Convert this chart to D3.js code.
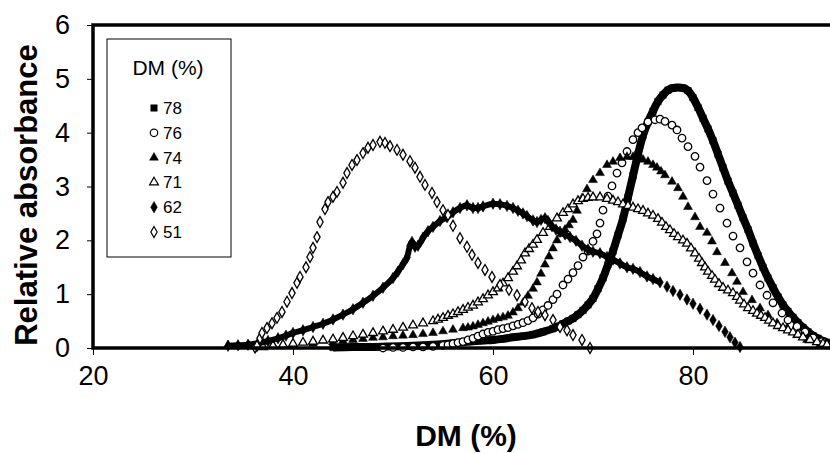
<!DOCTYPE html>
<html>
<head>
<meta charset="utf-8">
<script src="https://cdn.jsdelivr.net/npm/d3@7"></script>
<style>
  body { margin: 0; background: #fff; }
  text { font-family: "Liberation Sans", Arial, sans-serif; fill: #000; }
</style>
</head>
<body>
<div id="chart"></div>
<script>
// DM (%) vs relative absorbance, one array of [DM, absorbance] per sample
const s78 = [[44,0.01],[46,0.02],[48,0.02],[50,0.03],[52,0.04],[54,0.06],[56,0.09],[57.7,0.12],[59,0.14],[60,0.15],[61,0.17],[62,0.2],[63,0.22],[64,0.25],[65,0.3],[66,0.36],[66.5,0.4],[67,0.45],[67.5,0.5],[68,0.55],[68.5,0.62],[69,0.7],[69.5,0.8],[70,0.92],[70.5,1.1],[71,1.3],[71.5,1.55],[72,1.8],[72.5,2.1],[73,2.4],[73.5,2.8],[74,3.2],[74.5,3.6],[75,3.95],[75.5,4.2],[76,4.4],[76.5,4.58],[77,4.7],[77.5,4.79],[78,4.83],[78.5,4.84],[79,4.83],[79.5,4.78],[80,4.65],[80.5,4.47],[81,4.27],[81.5,4.07],[82,3.85],[82.5,3.6],[83,3.35],[83.5,3.1],[84,2.88],[84.5,2.65],[85,2.42],[85.5,2.2],[86,1.95],[86.5,1.72],[87,1.5],[87.5,1.3],[88,1.12],[88.5,0.95],[89,0.8],[89.5,0.68],[90,0.57],[90.5,0.47],[91,0.38],[91.5,0.3],[92,0.23],[92.5,0.18],[93,0.13],[93.5,0.1],[94,0.08],[95,0.05]]

const s76 = [[49,0],[50,0.01],[51,0.01],[52,0.02],[53,0.02],[54,0.03],[55,0.05],[55.5,0.06],[56,0.08],[56.5,0.1],[57,0.12],[57.5,0.15],[58,0.18],[58.5,0.22],[59,0.26],[59.5,0.29],[60,0.31],[60.5,0.34],[61,0.36],[61.5,0.38],[62,0.41],[62.5,0.44],[63,0.47],[63.5,0.51],[64,0.56],[64.5,0.63],[65,0.71],[65.5,0.79],[66,0.9],[66.4,1.0],[67,1.17],[67.5,1.28],[68,1.4],[68.5,1.53],[69,1.69],[69.5,1.8],[70,1.98],[70.4,2.12],[70.7,2.32],[71,2.56],[71.5,2.82],[71.9,3.01],[72.4,3.25],[72.9,3.44],[73.4,3.65],[74,3.87],[74.5,4.0],[74.9,4.09],[75.5,4.2],[76.2,4.24],[76.7,4.25],[77.2,4.21],[77.9,4.14],[78.4,4.05],[78.9,3.9],[79.5,3.74],[80.2,3.56],[80.7,3.36],[81.4,3.11],[82,2.86],[82.7,2.6],[83.4,2.32],[84,2.08],[84.7,1.86],[85.4,1.6],[86,1.39],[86.7,1.17],[87.4,0.98],[88,0.84],[88.9,0.65],[89.5,0.52],[90.4,0.4],[91.2,0.3],[92,0.19],[92.9,0.12],[93.7,0.06],[94.5,0.03],[95.5,0.01]]

const s74 = [[33.5,0.05],[35.6,0.04],[38,0.05],[40,0.06],[42,0.08],[44,0.11],[45,0.13],[46,0.15],[47,0.17],[48,0.19],[49,0.2],[50,0.22],[51,0.23],[52,0.24],[53,0.26],[54,0.28],[55,0.31],[56,0.34],[57,0.37],[57.5,0.38],[58,0.4],[58.5,0.43],[59,0.46],[59.5,0.49],[60,0.52],[60.5,0.55],[61,0.57],[61.5,0.6],[62,0.66],[62.5,0.74],[63,0.84],[63.5,0.97],[64,1.1],[64.4,1.22],[64.8,1.38],[65.2,1.55],[65.6,1.7],[66,1.85],[66.4,2.0],[66.8,2.12],[67.2,2.2],[67.6,2.28],[68,2.38],[68.4,2.55],[68.9,2.78],[69.4,2.95],[70,3.12],[70.7,3.25],[71.4,3.4],[72,3.46],[72.7,3.53],[73.4,3.55],[74,3.55],[74.4,3.54],[75,3.5],[75.5,3.46],[76,3.4],[76.4,3.35],[76.8,3.28],[77.2,3.21],[77.9,3.09],[78.5,2.97],[79,2.81],[79.5,2.62],[80.2,2.43],[80.7,2.25],[81.4,2.14],[81.9,1.98],[82.4,1.78],[83.2,1.58],[83.9,1.39],[84.4,1.23],[85,1.04],[85.9,0.89],[86.7,0.74],[87.5,0.61],[88.4,0.46],[89.4,0.37],[90.4,0.24],[91.4,0.15],[92.7,0.06],[93.7,0.03],[95,0.01]]

const s71 = [[37,0.02],[38,0.04],[39,0.06],[40,0.08],[41,0.1],[42,0.12],[43,0.14],[44,0.16],[45,0.19],[46,0.22],[47,0.25],[48,0.28],[49,0.31],[50,0.34],[51,0.38],[52,0.42],[53,0.46],[54,0.5],[54.5,0.53],[55,0.56],[55.5,0.6],[56,0.63],[56.5,0.67],[57,0.71],[57.5,0.75],[58,0.79],[58.5,0.85],[59,0.91],[59.5,0.98],[60,1.04],[60.5,1.11],[61,1.2],[61.5,1.3],[62,1.42],[62.4,1.52],[62.8,1.63],[63.2,1.76],[63.6,1.84],[64,1.92],[64.4,2.01],[65,2.14],[65.7,2.25],[66.4,2.41],[67,2.51],[67.5,2.58],[68,2.67],[68.5,2.73],[69,2.77],[69.5,2.79],[70,2.8],[70.7,2.8],[71.4,2.77],[72,2.74],[72.5,2.71],[73,2.67],[73.5,2.64],[74,2.61],[74.5,2.58],[75,2.55],[75.5,2.5],[76,2.46],[76.5,2.4],[76.9,2.33],[77.3,2.25],[77.7,2.19],[78.1,2.12],[78.5,2.06],[79,2.0],[79.4,1.94],[79.8,1.85],[80.2,1.76],[80.6,1.66],[80.9,1.58],[81.2,1.5],[81.5,1.42],[81.9,1.34],[82.2,1.27],[82.6,1.19],[83,1.12],[83.5,1.07],[84,1.02],[84.4,0.95],[84.7,0.88],[85.1,0.81],[85.5,0.74],[86,0.69],[86.4,0.64],[86.8,0.6],[87.2,0.56],[87.6,0.51],[88,0.46],[88.5,0.41],[89,0.37],[89.5,0.33],[90,0.29],[90.5,0.25],[91,0.2],[91.7,0.15],[92.4,0.11],[93,0.08],[93.4,0.06],[94,0.04],[95,0.02]]

const s62 = [[33.5,0.04],[34.5,0.05],[35.5,0.06],[36.5,0.09],[37.5,0.13],[38.5,0.18],[39.3,0.23],[40,0.28],[41,0.33],[42,0.39],[43,0.45],[44,0.53],[45,0.62],[46,0.72],[47,0.84],[48,0.97],[49,1.12],[50,1.3],[50.5,1.42],[51,1.56],[51.4,1.68],[51.7,1.9],[51.9,1.97],[52.2,1.88],[52.5,1.9],[53,2.05],[53.5,2.17],[54,2.25],[54.7,2.36],[55.4,2.43],[56,2.52],[56.7,2.6],[57.4,2.65],[58,2.6],[58.5,2.6],[59,2.63],[60,2.68],[60.7,2.67],[61.4,2.64],[62,2.6],[62.5,2.55],[63,2.5],[63.4,2.45],[64,2.37],[64.4,2.34],[64.8,2.38],[65.2,2.41],[65.5,2.36],[65.9,2.26],[66.3,2.2],[66.7,2.16],[67.2,2.11],[67.7,2.06],[68.3,1.99],[68.9,1.9],[69.5,1.83],[70,1.79],[70.7,1.76],[71.4,1.69],[72,1.64],[72.7,1.57],[73.4,1.5],[74,1.47],[74.7,1.41],[75.4,1.33],[76,1.28],[76.7,1.22],[77.4,1.14],[78,1.06],[78.7,0.99],[79.4,0.9],[80,0.82],[80.7,0.73],[81.4,0.62],[82,0.52],[82.6,0.41],[83.2,0.3],[83.7,0.2],[84.2,0.1],[84.7,0.02]]

const s51 = [[36.2,0.01],[36.4,0.04],[36.7,0.18],[36.9,0.28],[37.4,0.37],[37.9,0.46],[38.4,0.56],[38.9,0.67],[39.4,0.86],[39.9,1.02],[40.4,1.21],[40.7,1.32],[41.3,1.5],[41.7,1.69],[42,1.86],[42.4,2.06],[42.7,2.34],[43.2,2.58],[43.5,2.71],[44,2.81],[44.4,2.9],[45,3.07],[45.4,3.25],[45.9,3.4],[46.4,3.49],[47,3.62],[47.5,3.72],[48,3.77],[48.7,3.83],[49.2,3.81],[49.7,3.75],[50.4,3.68],[51,3.59],[51.7,3.47],[52.2,3.35],[52.7,3.18],[53.2,3.03],[53.9,2.88],[54.4,2.71],[55,2.56],[55.5,2.47],[56,2.27],[56.7,2.04],[57.4,1.88],[57.9,1.73],[58.5,1.58],[59.2,1.45],[59.9,1.32],[60.7,1.17],[61.6,1.08],[62.4,0.98],[63.2,0.86],[63.9,0.74],[64.5,0.67],[65.2,0.61],[66,0.52],[66.7,0.39],[67.4,0.33],[68,0.24],[68.9,0.15],[69.7,0.0]]

const xTicks = [20, 40, 60, 80]
const yTicks = [0, 1, 2, 3, 4, 5, 6]

// drawing order = legend order, later series sit on top
// band: dense runs of markers that merge into a solid stroke, up to that DM
const series = [
  {name: "78", data: s78, symbol: d3.symbolSquare,   size: 42, filled: true,  band: 95, bandWidth: 8},
  {name: "76", data: s76, symbol: d3.symbolCircle,   size: 44, filled: false, band: 0},
  {name: "74", data: s74, symbol: d3.symbolTriangle, size: 34, filled: true,  band: 0},
  {name: "71", data: s71, symbol: d3.symbolTriangle, size: 34, filled: false, band: 0},
  {name: "62", data: s62, symbol: d3.symbolDiamond,  size: 38, filled: true,  band: 77, bandWidth: 6},
  {name: "51", data: s51, symbol: d3.symbolDiamond,  size: 34, filled: false, band: 0}
]

const W = 830, H = 453
const plot = {left: 93, top: 25, right: 893, bottom: 348}

const svg = d3.select("#chart")
  .append("svg")
    .attr("width", W)
    .attr("height", H)

const x = d3.scaleLinear().domain([20, 100]).range([plot.left, plot.right])
const y = d3.scaleLinear().domain([0, 6]).range([plot.bottom, plot.top])

// ticks
svg.append("g")
  .attr("transform", `translate(0, ${plot.bottom})`)
  .call(d3.axisBottom(x).tickValues(xTicks).tickSize(7).tickPadding(11).tickFormat(d3.format("d")))
  .call(g => g.select(".domain").remove())
  .call(g => g.selectAll("text").attr("font-size", 27).attr("font-family", "Liberation Sans, Arial"))

svg.append("g")
  .attr("transform", `translate(${plot.left}, 0)`)
  .call(d3.axisLeft(y).tickValues(yTicks).tickSize(6).tickPadding(17).tickFormat(d3.format("d")))
  .call(g => g.select(".domain").remove())
  .call(g => g.selectAll("text").attr("font-size", 27).attr("font-family", "Liberation Sans, Arial"))

// series
series.forEach(s => {
  if (s.band) {
    const line = d3.line()
      .x(d => x(d[0]))
      .y(d => y(d[1]))
      .curve(d3.curveMonotoneX)
    svg.append("path")
      .datum(s.data.filter(d => d[0] <= s.band))
      .attr("fill", "none")
      .attr("stroke", "#000")
      .attr("stroke-width", s.bandWidth)
      .attr("stroke-linejoin", "round")
      .attr("d", line)
  }
  svg.append("g")
    .selectAll("path")
    .data(s.data)
    .enter()
    .append("path")
      .attr("transform", d => `translate(${x(d[0])}, ${y(d[1])})`)
      .attr("d", d3.symbol().type(s.symbol).size(s.size))
      .attr("fill", s.filled ? "#000" : "#fff")
      .attr("stroke", "#000")
      .attr("stroke-width", s.filled ? 0.5 : 1.3)
})

// plot frame
svg.append("rect")
  .attr("x", plot.left)
  .attr("y", plot.top)
  .attr("width", plot.right - plot.left)
  .attr("height", plot.bottom - plot.top)
  .attr("fill", "none")
  .attr("stroke", "#000")
  .attr("stroke-width", 3.5)

// axis titles
svg.append("text")
  .attr("x", 466)
  .attr("y", 446)
  .attr("text-anchor", "middle")
  .attr("font-size", 30)
  .attr("font-weight", "bold")
  .text("DM (%)")

svg.append("text")
  .attr("transform", "translate(37, 195) rotate(-90)")
  .attr("text-anchor", "middle")
  .attr("font-size", 31)
  .attr("font-weight", "bold")
  .text("Relative absorbance")

// legend
const legend = svg.append("g")
legend.append("rect")
  .attr("x", 107).attr("y", 39)
  .attr("width", 124).attr("height", 218)
  .attr("fill", "#fff")
  .attr("stroke", "#000")
  .attr("stroke-width", 1)
legend.append("text")
  .attr("x", 168).attr("y", 75)
  .attr("text-anchor", "middle")
  .attr("font-size", 21)
  .text("DM (%)")

const item = legend.selectAll(".item")
  .data(series)
  .enter()
  .append("g")
    .attr("class", "item")
    .attr("transform", (d, i) => `translate(154, ${108 + i * 24.8})`)
item.append("path")
  .attr("d", d => d3.symbol().type(d.symbol).size(d.size)())
  .attr("fill", d => d.filled ? "#000" : "#fff")
  .attr("stroke", "#000")
  .attr("stroke-width", d => d.filled ? 0.5 : 1.2)
item.append("text")
  .attr("x", 9)
  .attr("y", 6)
  .attr("font-size", 17)
  .text(d => d.name)
</script>
</body>
</html>
